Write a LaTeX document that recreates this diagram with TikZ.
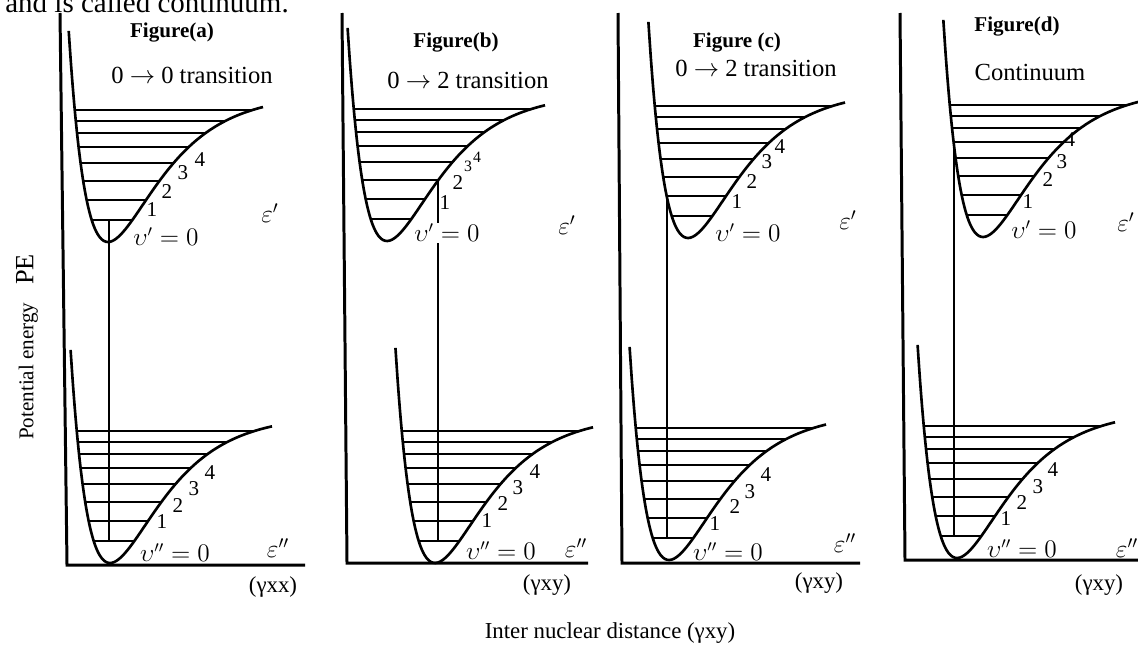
\documentclass[tikz,border=0pt]{standalone}
\usepackage{fontspec}
\setmainfont{Liberation Serif}

% one potential well with its vibrational levels: min x, min y, height of left end, right end x
\newcommand{\morsewell}[4]{%
  \pgfmathsetmacro\wellxl{#1-ln(1+sqrt(#3/148))/0.02}
  \draw[curve] plot[domain=\wellxl:#4, samples=90, smooth] (\x,{#2-148*(1-exp(-0.02*(\x-#1)))^2});
  \foreach \lv in {22,42,61,79,95,109,121,132}{
    \pgfmathsetmacro\lvs{sqrt(\lv/148)}
    \draw[level] ({#1-ln(1+\lvs)/0.02},{#2-\lv}) -- ({#1-ln(1-\lvs)/0.02},{#2-\lv});
  }%
}

\begin{document}
\begin{tikzpicture}[
        x=0.02cm, y=-0.02cm,
        axis/.style={line width=1.7pt},
        curve/.style={line width=1.5pt},
        level/.style={line width=1.1pt},
        trans/.style={line width=1.4pt},
        num/.style={font=\fontsize{12}{14}\selectfont, inner sep=0pt},
        smallnum/.style={font=\fontsize{9}{11}\selectfont, inner sep=0pt},
        title/.style={font=\bfseries\fontsize{12}{14}\selectfont, inner sep=0pt},
        note/.style={font=\fontsize{14}{16}\selectfont, inner sep=0pt},
        qnum/.style={font=\fontsize{13.5}{16}\selectfont, inner sep=0.5pt},
        state/.style={font=\fontsize{14}{16}\selectfont, inner sep=0pt},
        dist/.style={font=\fontsize{13}{15}\selectfont, inner sep=0pt}
    ]
        \useasboundingbox (0,0) rectangle (1138,646);

        \node[font=\fontsize{16.5}{18}\selectfont, anchor=base west, inner sep=0pt] (prevline) at (5,12) {and is called continuum.};

        % axes
        \draw[axis] (60,13) -- (67,565) -- (305,565);
        \draw[axis] (342,13) -- (347,563) -- (588,563);
        \draw[axis] (618,13) -- (622,563) -- (860,563);
        \draw[axis] (900,13) -- (905,560) -- (1138,560);

        % wells
        \morsewell{108}{242}{211}{263}
        \morsewell{110}{563}{213}{272}
        \morsewell{387}{241}{213}{545}
        \morsewell{435}{563}{215}{593}
        \morsewell{688}{238}{216}{845}
        \morsewell{669}{560}{213}{826}
        \morsewell{983}{237}{217}{1140}
        \morsewell{957}{558}{213}{1115}

        % transitions
        \coordinate (a-up) at (109,220);
        \coordinate (a-low) at (109,541);
        \coordinate (b-up) at (438,180);
        \coordinate (b-low) at (438,541);
        \coordinate (c-up) at (667,198);
        \coordinate (c-low) at (667,538);
        \coordinate (d-up) at (954,146);
        \coordinate (d-low) at (954,536);
        \draw[trans] (a-up) -- (a-low);
        \draw[trans] (b-up) -- (b-low);
        \draw[trans] (c-up) -- (c-low);
        \draw[trans] (d-up) -- (d-low);

        % titles
        \node[title] (figa) at (172,33) {Figure(a)};
        \node[note] (trana) at (192,75) {0 $\rightarrow$ 0 transition};
        \node[title] (figb) at (456,43) {Figure(b)};
        \node[note] (tranb) at (468,80) {0 $\rightarrow$ 2 transition};
        \node[title] (figc) at (737,43) {Figure (c)};
        \node[note] (tranc) at (756,68) {0 $\rightarrow$ 2 transition};
        \node[title] (figd) at (1017,27) {Figure(d)};
        \node[note] (contd) at (1030,72) {Continuum};

        % level numbers
        \foreach \n/\px/\py in {1/152/210, 2/167/192, 3/183/173, 4/200/160} \node[num] (au\n) at (\px,\py) {\n};
        \foreach \n/\px/\py in {1/162/522, 2/178/506, 3/194/489, 4/210/473} \node[num] (al\n) at (\px,\py) {\n};
        \foreach \n/\px/\py in {1/445/203, 2/458/183} \node[num] (bu\n) at (\px,\py) {\n};
        \foreach \n/\px/\py in {3/468/166, 4/477/157} \node[smallnum] (bu\n) at (\px,\py) {\n};
        \foreach \n/\px/\py in {1/487/521, 2/503/504, 3/518/488, 4/535/472} \node[num] (bl\n) at (\px,\py) {\n};
        \foreach \n/\px/\py in {1/737/202, 2/752/182, 3/767/162, 4/780/147} \node[num] (cu\n) at (\px,\py) {\n};
        \foreach \n/\px/\py in {1/715/524, 2/735/507, 3/750/492, 4/766/475} \node[num] (cl\n) at (\px,\py) {\n};
        \foreach \n/\px/\py in {1/1028/202, 2/1048/180, 3/1062/162, 4/1070/140} \node[num] (du\n) at (\px,\py) {\n};
        \foreach \n/\px/\py in {1/1006/519, 2/1022/503, 3/1038/487, 4/1053/470} \node[num] (dl\n) at (\px,\py) {\n};

        % ground levels
        \node[qnum] (au0) at (166,237) {$\upsilon' = 0$};
        \node[qnum] (al0) at (175,553) {$\upsilon'' = 0$};
        \node[qnum, fill=white] (bu0) at (447,233) {$\upsilon' = 0$};
        \node[qnum] (bl0) at (501,551) {$\upsilon'' = 0$};
        \node[qnum] (cu0) at (748,233) {$\upsilon' = 0$};
        \node[qnum] (cl0) at (728,552) {$\upsilon'' = 0$};
        \node[qnum] (du0) at (1044,230) {$\upsilon' = 0$};
        \node[qnum] (dl0) at (1022,549) {$\upsilon'' = 0$};

        % electronic states
        \node[state] (epsau) at (270,213) {$\varepsilon'$};
        \node[state] (epsal) at (278,548) {$\varepsilon''$};
        \node[state] (epsbu) at (567,225) {$\varepsilon'$};
        \node[state] (epsbl) at (576,548) {$\varepsilon''$};
        \node[state] (epscu) at (848,220) {$\varepsilon'$};
        \node[state] (epscl) at (845,543) {$\varepsilon''$};
        \node[state] (epsdu) at (1126,222) {$\varepsilon'$};
        \node[state] (epsdl) at (1127,548) {$\varepsilon''$};

        % distance axes
        \node[dist] (ra) at (273,587) {(γxx)};
        \node[dist] (rb) at (547,585) {(γxy)};
        \node[dist] (rc) at (819,583) {(γxy)};
        \node[dist] (rd) at (1099,585) {(γxy)};
        \node[dist] (rlabel) at (610,633) {Inter nuclear distance (γxy)};
        \node[rotate=90, inner sep=0pt] (pelabel) at (27,347) {{\fontsize{12}{14}\selectfont Potential energy}\quad{\fontsize{15}{17}\selectfont PE}};
    \end{tikzpicture}
\end{document}
